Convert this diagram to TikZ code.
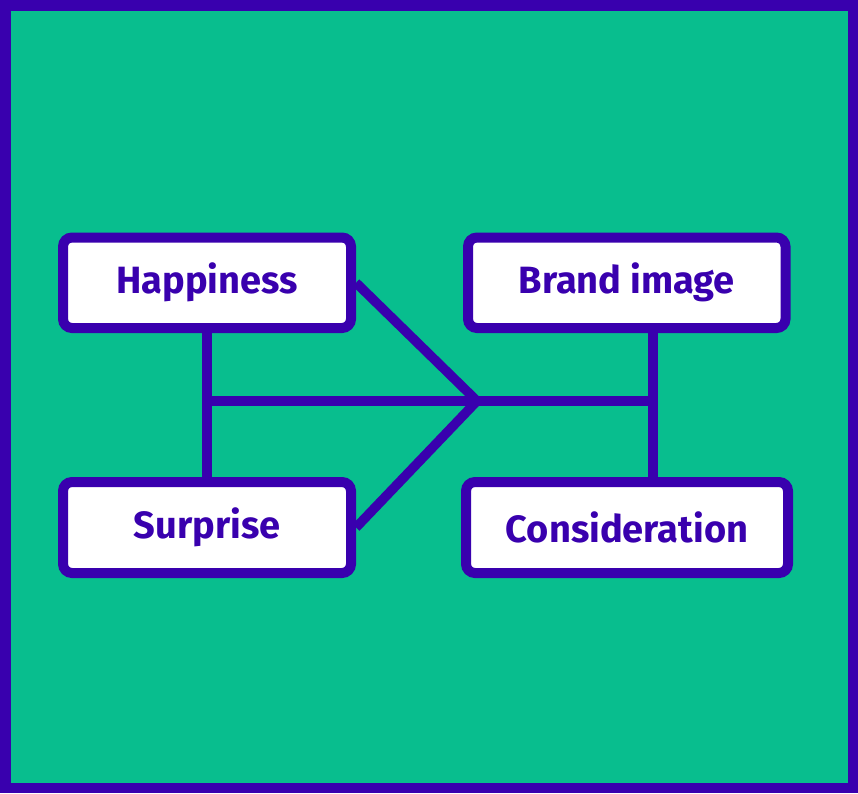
\documentclass[tikz,border=0pt]{standalone}
\usepackage{fontspec}
\setmainfont{Fira Sans}
\usetikzlibrary{calc}
\pgfdeclarelayer{frame}
\pgfdeclarelayer{links}
\pgfsetlayers{frame,links,main}
\definecolor{vio}{HTML}{3900AE}
\definecolor{grn}{HTML}{08BE8E}
\tikzset{
  box/.style={draw=vio, fill=white, line width=10pt, rounded corners=9pt,
    inner sep=0pt, minimum height=90.5pt, text=vio,
    font=\fontsize{38}{40}\selectfont\bfseries},
  link/.style={draw=vio, line width=9.5pt}
}
\begin{document}
\begin{tikzpicture}[x=1pt,y=-1pt]
\useasboundingbox (0,0) rectangle (858,793);
\begin{pgfonlayer}{frame}
\draw[draw=vio, fill=grn, line width=10.5pt] (5.25,5.25) rectangle (852.75,787.75);
\end{pgfonlayer}
\node[box, minimum width=288pt] (hap) at (207,282.75) {Happiness};
\node[box, minimum width=288pt, minimum height=91pt] (sur) at (207,527.5) {Surprise};
\node[box, minimum width=317.5pt] (brand) at (626.75,282.75) {Brand image};
\node[box, minimum width=322pt, minimum height=91pt] (cons) at (627,527.5) {Consideration};
\coordinate (tip) at (477,401);
\coordinate (lj) at (207,401);
\coordinate (rj) at (653,401);
\begin{pgfonlayer}{links}
\draw[link] (hap.south) -- (sur.north);
\draw[link] (lj) -- (rj);
\draw[link] (brand.south -| rj) -- (cons.north -| rj);
\draw[link, line join=miter] (hap.east) -- (tip) -- (sur.east);
\end{pgfonlayer}
\end{tikzpicture}
\end{document}
